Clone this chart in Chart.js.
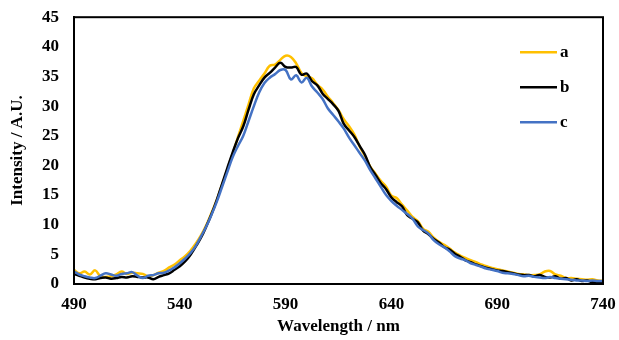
<!DOCTYPE html>
<html lang="en">
<head>
  <meta charset="UTF-8">
  <title>Emission spectra</title>
  <script src="https://cdn.jsdelivr.net/npm/chart.js"></script>
  <style>
    body { margin: 0; background: #fff; }
    #wrap { width: 619px; height: 340px; }
  </style>
</head>
<body>
  <div id="wrap"><canvas id="spec"></canvas></div>

  <script>
    // wavelength grid, nm (2.5 nm steps)
    const wavelengths = [];
    for (let w = 490; w <= 740; w += 2.5) wavelengths.push(w);

    const seriesA = [
      2.4, 1.8, 2.1, 1.6, 2.3, 1.3, 1.2, 1.3, 1.6, 2.1,
      1.7, 1.9, 1.8, 1.7, 1.3, 1.5, 1.9, 2.2, 2.8, 3.3,
      4.0, 4.7, 5.6, 6.8, 8.2, 9.9, 12.0, 14.2, 16.8, 19.3,
      22.0, 24.8, 27.5, 30.3, 33.0, 34.3, 35.5, 36.8, 37.0, 37.8,
      38.5, 38.3, 37.2, 35.6, 35.0, 34.7, 33.6, 32.8, 31.6, 30.5,
      29.3, 27.8, 26.6, 25.2, 23.2, 21.6, 19.8, 18.6, 17.4, 16.4,
      14.9, 14.5, 13.4, 12.4, 11.3, 10.6, 9.3, 8.8, 7.8, 7.1,
      6.6, 6.0, 5.3, 4.8, 4.4, 4.0, 3.7, 3.3, 3.0, 2.7,
      2.5, 2.3, 2.1, 1.9, 1.7, 1.6, 1.5, 1.5, 1.6, 2.1,
      2.2, 1.6, 1.4, 1.0, 1.0, 0.9, 0.8, 0.7, 0.8, 0.6,
      0.5
    ];
    const seriesB = [
      1.7, 1.4, 1.1, 0.9, 0.8, 1.0, 1.1, 0.9, 1.0, 1.2,
      1.1, 1.3, 1.2, 1.1, 1.1, 0.8, 1.2, 1.5, 1.8, 2.4,
      3.0, 3.8, 4.9, 6.3, 7.8, 9.7, 11.8, 14.2, 16.9, 19.6,
      22.2, 24.6, 26.6, 29.4, 32.0, 33.5, 34.8, 35.6, 36.5, 37.3,
      36.6, 36.5, 36.6, 35.3, 35.5, 34.2, 33.5, 32.1, 31.2, 30.3,
      29.2, 27.0, 25.9, 24.8, 23.3, 21.8, 19.7, 18.4, 17.0, 16.0,
      14.6, 13.8, 13.1, 11.6, 11.0, 10.4, 9.0, 8.4, 7.6, 7.0,
      6.2, 5.8, 5.1, 4.6, 4.0, 3.7, 3.3, 3.0, 2.7, 2.5,
      2.3, 2.2, 2.0, 1.8, 1.6, 1.5, 1.5, 1.3, 1.5, 1.2,
      1.1, 1.3, 0.9, 1.0, 0.6, 0.8, 0.5, 0.6, 0.3, 0.4,
      0.3
    ];
    const seriesC = [
      2.1, 1.6, 1.3, 1.1, 1.0, 1.4, 1.8, 1.6, 1.4, 1.7,
      1.8, 2.0, 1.4, 1.0, 1.4, 1.5, 1.8, 1.9, 2.3, 2.8,
      3.5, 4.3, 5.2, 6.4, 8.0, 9.7, 11.7, 13.9, 16.4, 18.9,
      21.4, 23.3, 25.0, 27.5, 30.0, 32.3, 33.9, 34.8, 35.4, 36.1,
      36.1, 34.5, 35.2, 34.0, 34.8, 33.3, 32.3, 31.2, 29.6, 28.5,
      27.4, 26.2, 24.7, 23.4, 22.1, 20.8, 19.2, 17.8, 16.4, 15.0,
      14.0, 13.2, 12.5, 11.8, 11.0, 9.7, 9.1, 8.5, 7.4, 6.7,
      6.2, 5.5, 4.7, 4.3, 4.0, 3.5, 3.2, 2.9, 2.6, 2.4,
      2.2, 1.9, 1.8, 1.7, 1.5, 1.3, 1.4, 1.2, 1.1, 1.0,
      1.2, 1.0, 0.9, 0.8, 0.7, 0.6, 0.6, 0.5, 0.6, 0.5,
      0.5
    ];
    const xTicks = [490, 540, 590, 640, 690, 740];
    const yTicks = [0, 5, 10, 15, 20, 25, 30, 35, 40, 45];

    const FONT = { family: '"Liberation Serif", "Times New Roman", serif', size: 17, weight: 'bold' };

    const toPoints = (ys) => ys.map((y, i) => ({ x: wavelengths[i], y: y }));

    // frame on top/right + legend inside plot
    const framePlugin = {
      id: 'frame',
      afterDraw(chart) {
        const { ctx, chartArea: a } = chart;
        ctx.save();
        ctx.strokeStyle = '#000';
        ctx.lineWidth = 2;
        ctx.strokeRect(a.left, a.top, a.right - a.left, a.bottom - a.top);

        ctx.font = `bold ${FONT.size}px ${FONT.family}`;
        ctx.textBaseline = 'middle';
        chart.data.datasets.forEach((ds, i) => {
          const y = a.top + 35 + i * 35;
          ctx.strokeStyle = ds.borderColor;
          ctx.lineWidth = 2.5;
          ctx.beginPath();
          ctx.moveTo(a.right - 83, y);
          ctx.lineTo(a.right - 46, y);
          ctx.stroke();
          ctx.fillStyle = '#000';
          ctx.fillText(ds.label, a.right - 43, y);
        });
        ctx.restore();
      }
    };

    const line = (label, ys, color, order) => ({
      label, data: toPoints(ys), borderColor: color, backgroundColor: color,
      borderWidth: 2.5, pointRadius: 0, tension: 0.4, order
    });

    new Chart(document.getElementById('spec'), {
      type: 'line',
      data: {
        datasets: [
          line('a', seriesA, '#FFC000', 3),
          line('b', seriesB, '#000000', 2),
          line('c', seriesC, '#4472C4', 1)
        ]
      },
      options: {
        animation: false,
        responsive: true,
        maintainAspectRatio: false,
        layout: { padding: { left: 0, right: 16, top: 12, bottom: 0 } },
        plugins: { legend: { display: false }, tooltip: { enabled: false } },
        scales: {
          x: {
            type: 'linear', min: 490, max: 740,
            afterBuildTicks: (s) => { s.ticks = xTicks.map(v => ({ value: v })); },
            afterFit: (s) => { s.height = 56; },
            grid: { display: false },
            border: { display: true, color: '#000', width: 2 },
            ticks: { font: FONT, color: '#000', padding: 2 },
            title: { display: true, text: 'Wavelength / nm', font: FONT, color: '#000', padding: { top: 4, bottom: 3 } }
          },
          y: {
            min: 0, max: 45,
            afterBuildTicks: (s) => { s.ticks = yTicks.map(v => ({ value: v })); },
            afterFit: (s) => { s.width = 74; },
            grid: { display: false },
            border: { display: true, color: '#000', width: 2 },
            ticks: { font: FONT, color: '#000', padding: 7 },
            title: { display: true, text: 'Intensity / A.U.', font: FONT, color: '#000', padding: { top: 7, bottom: 4 } }
          }
        }
      },
      plugins: [framePlugin]
    });
  </script>
</body>
</html>
